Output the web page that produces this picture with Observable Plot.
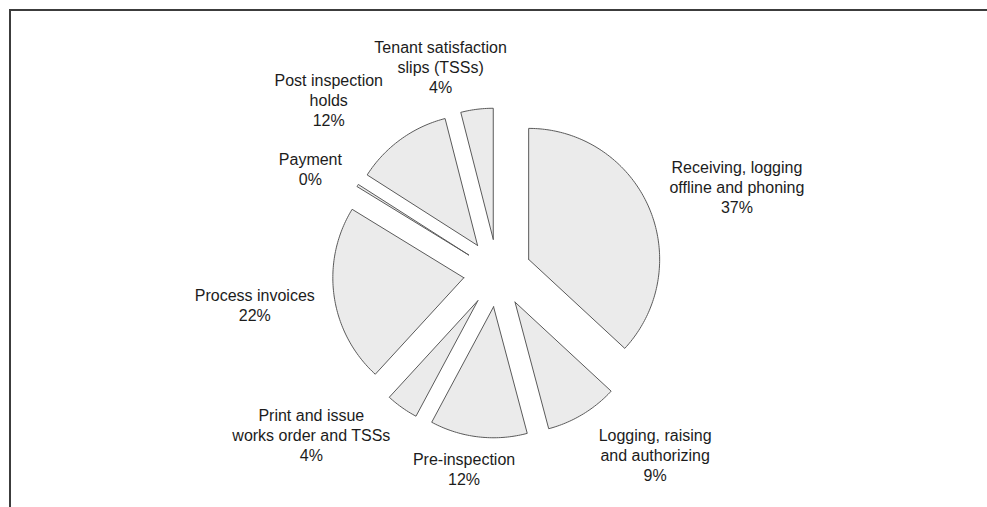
<!DOCTYPE html>
<html><head><meta charset="utf-8">
<script src="https://cdn.jsdelivr.net/npm/d3@7"></script>
<script src="https://cdn.jsdelivr.net/npm/@observablehq/plot@0.6"></script>
<style>
html,body{margin:0;padding:0;background:#fff;}
#wrap{position:relative;width:987px;height:507px;overflow:hidden;}
#frame{position:absolute;left:9px;top:9px;right:-10px;bottom:-10px;border-top:2px solid #3c3c3c;border-left:2px solid #3c3c3c;pointer-events:none;}
#chart{position:absolute;left:0;top:0;}
</style></head><body>
<div id="wrap"><div id="chart"></div><div id="frame"></div></div>
<script>
// ---- data ----
const categories = [
  "Receiving, logging\noffline and phoning",
  "Logging, raising\nand authorizing",
  "Pre-inspection",
  "Print and issue\nworks order and TSSs",
  "Process invoices",
  "Payment",
  "Post inspection\nholds",
  "Tenant satisfaction\nslips (TSSs)"
];
const values = [37, 9, 12, 4, 22, 0.3, 12, 4];
const percentLabels = ["37%", "9%", "12%", "4%", "22%", "0%", "12%", "4%"];

// ---- layout ----
const W = 987, H = 507;
const CX = 497, CY = 272.5, R = 131;   // pie centre & radius in pixels
const EXPLODE = 34 / R;                // slice offset (radius units)
const GAP = 13;                        // label gap in px
const FONT = 16, LINE = 20;
// per-label placement nudges in px (best-fit label placement tweaks)
const labelNudge = [[9, 14], [38, -17], [-10, -6], [-43, -40], [-5, -2], [-5, 10], [-32, 16], [-30, 7]];

const rows = categories.map((c, i) => ({name: c, value: values[i], pct: percentLabels[i]}));
const arcs = d3.pie().sort(null).value(d => d.value)(rows);

const pts = [];
arcs.forEach(a => {
  const mid = (a.startAngle + a.endAngle) / 2;
  const ox = EXPLODE * Math.sin(mid), oy = EXPLODE * Math.cos(mid);
  const n = Math.max(2, Math.ceil((a.endAngle - a.startAngle) / (Math.PI / 180)));
  pts.push({name: a.data.name, x: ox, y: oy});
  for (let k = 0; k <= n; k++) {
    const t = a.startAngle + (a.endAngle - a.startAngle) * k / n;
    pts.push({name: a.data.name, x: ox + Math.sin(t), y: oy + Math.cos(t)});
  }
  pts.push({name: a.data.name, x: ox, y: oy});
});

const ctx = document.createElement("canvas").getContext("2d");
ctx.font = FONT + "px 'Liberation Sans'";
const labels = arcs.map((a, i) => {
  const text = a.data.name + "\n" + a.data.pct;
  const lines = text.split("\n");
  const w = Math.max(...lines.map(l => ctx.measureText(l).width));
  const h = lines.length * LINE - 2;
  const mid = (a.startAngle + a.endAngle) / 2;
  const ux = Math.sin(mid), uy = Math.cos(mid);
  const dist = 1 + EXPLODE + (GAP + Math.abs(ux) * w / 2 + Math.abs(uy) * h / 2) / R;
  const [nx, ny] = labelNudge[i];
  return {text, x: ux * dist + nx / R, y: uy * dist - ny / R};
});

const chart = Plot.plot({
  width: W, height: H,
  margin: 0,
  x: {domain: [(0 - CX) / R, (W - CX) / R], axis: null},
  y: {domain: [(CY - H) / R, CY / R], axis: null},
  style: {fontFamily: "'Liberation Sans', Arial, sans-serif", background: "transparent"},
  marks: [
    Plot.line(pts, {x: "x", y: "y", z: "name", fill: "#ebebeb", stroke: "#5a5a5a", strokeWidth: 1, strokeLinejoin: "miter", curve: "linear"}),
    Plot.text(labels, {x: "x", y: "y", text: "text", fontSize: FONT, lineHeight: LINE / FONT, textAnchor: "middle", lineAnchor: "middle", fill: "#1c1c1c"})
  ]
});
document.getElementById("chart").appendChild(chart);
</script>
</body></html>
